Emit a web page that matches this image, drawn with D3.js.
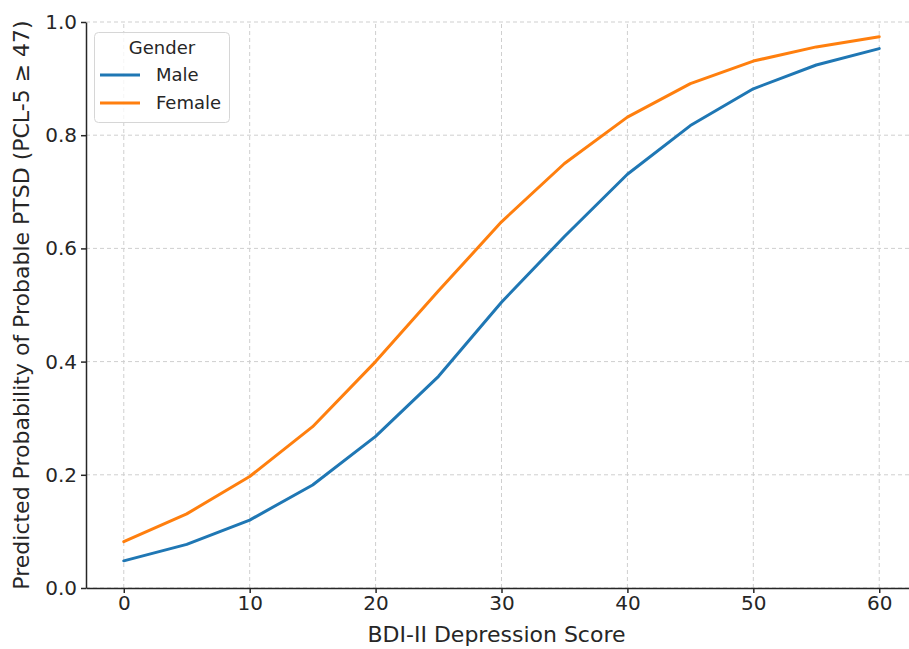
<!DOCTYPE html>
<html>
<head>
<meta charset="utf-8">
<script src="https://cdn.jsdelivr.net/npm/d3@7"></script>
<style>
  body { margin: 0; background: #fff; }
  svg { display: block; font-family: "DejaVu Sans", sans-serif; }
</style>
</head>
<body>
<svg id="chart"></svg>
<script>
// data
const bdiScores = [0, 5, 10, 15, 20, 25, 30, 35, 40, 45, 50, 55, 60];
const maleProb = [0.048, 0.077, 0.120, 0.182, 0.268, 0.374, 0.505, 0.621, 0.731, 0.817, 0.882, 0.924, 0.953];
const femaleProb = [0.082, 0.131, 0.197, 0.285, 0.400, 0.525, 0.647, 0.750, 0.832, 0.891, 0.931, 0.956, 0.974];
const xTicks = [0, 10, 20, 30, 40, 50, 60];
const yTicks = [0, 0.2, 0.4, 0.6, 0.8, 1.0];
const seriesNames = ["Male", "Female"];
const seriesColors = ["#1f77b4", "#ff7f0e"];

const svg_width = 909, svg_height = 649;
const svg = d3.select("#chart")
  .attr("width", svg_width)
  .attr("height", svg_height);

const xScale = d3.scaleLinear().domain([-3, 63]).range([86, 917]);
const yScale = d3.scaleLinear().domain([0, 1]).range([588, 22]);

const gridColor = "#cfcfcf";
const axisColor = "#262626";

// grid lines
svg.append("g")
  .selectAll("line")
  .data(xTicks)
  .enter().append("line")
    .attr("x1", d => xScale(d)).attr("x2", d => xScale(d))
    .attr("y1", yScale(0)).attr("y2", yScale(1))
    .style("stroke", gridColor)
    .style("stroke-width", 1)
    .style("stroke-dasharray", "4,3");

svg.append("g")
  .selectAll("line")
  .data(yTicks)
  .enter().append("line")
    .attr("x1", xScale(-3)).attr("x2", xScale(63))
    .attr("y1", d => yScale(d)).attr("y2", d => yScale(d))
    .style("stroke", gridColor)
    .style("stroke-width", 1)
    .style("stroke-dasharray", "4,3");

// series lines
const series = [maleProb, femaleProb];
const line = d3.line()
  .x((d, i) => xScale(bdiScores[i]))
  .y(d => yScale(d));

series.forEach((vals, k) => {
  svg.append("path")
    .datum(vals)
    .attr("d", line)
    .style("fill", "none")
    .style("stroke", seriesColors[k])
    .style("stroke-width", 3)
    .style("stroke-linejoin", "round")
    .style("stroke-linecap", "round");
});

// axes
const xAxis = d3.axisBottom(xScale)
  .tickValues(xTicks)
  .tickSizeInner(5)
  .tickSizeOuter(0)
  .tickPadding(3);
const yAxis = d3.axisLeft(yScale)
  .tickValues(yTicks)
  .tickFormat(d3.format(".1f"))
  .tickSizeInner(5)
  .tickSizeOuter(0)
  .tickPadding(4);

const gx = svg.append("g")
  .attr("transform", `translate(0, ${yScale(0)})`)
  .call(xAxis);
const gy = svg.append("g")
  .attr("transform", `translate(${xScale(-3)}, 0)`)
  .call(yAxis);

[gx, gy].forEach(g => {
  g.selectAll("line,path")
    .style("stroke", axisColor)
    .style("stroke-width", 1.5);
  g.selectAll("text")
    .style("font-family", "DejaVu Sans")
    .style("font-size", "20px")
    .style("fill", axisColor);
});

// axis labels
svg.append("text")
  .attr("x", (xScale(-3) + xScale(63)) / 2 - 5)
  .attr("y", 642)
  .attr("text-anchor", "middle")
  .style("font-size", "22px")
  .style("fill", axisColor)
  .text("BDI-II Depression Score");

svg.append("text")
  .attr("transform", `translate(29, ${(yScale(0) + yScale(1)) / 2}) rotate(-90)`)
  .attr("text-anchor", "middle")
  .style("font-size", "22px")
  .style("fill", axisColor)
  .text("Predicted Probability of Probable PTSD (PCL-5 \u2265 47)");

// legend
const legend = svg.append("g");
legend.append("rect")
  .attr("x", 94.5).attr("y", 32.5)
  .attr("width", 135).attr("height", 90)
  .attr("rx", 4)
  .style("fill", "rgba(255,255,255,0.8)")
  .style("stroke", "#d6d6d6")
  .style("stroke-width", 1);
legend.append("text")
  .attr("x", 162).attr("y", 54)
  .attr("text-anchor", "middle")
  .style("font-size", "18px")
  .style("fill", axisColor)
  .text("Gender");
seriesNames.forEach((name, k) => {
  const y = 75 + k * 28;
  legend.append("line")
    .attr("x1", 100).attr("x2", 140)
    .attr("y1", y).attr("y2", y)
    .style("stroke", seriesColors[k])
    .style("stroke-width", 3);
  legend.append("text")
    .attr("x", 156).attr("y", y + 6)
    .style("font-size", "18px")
    .style("fill", axisColor)
    .text(name);
});
</script>
</body>
</html>
